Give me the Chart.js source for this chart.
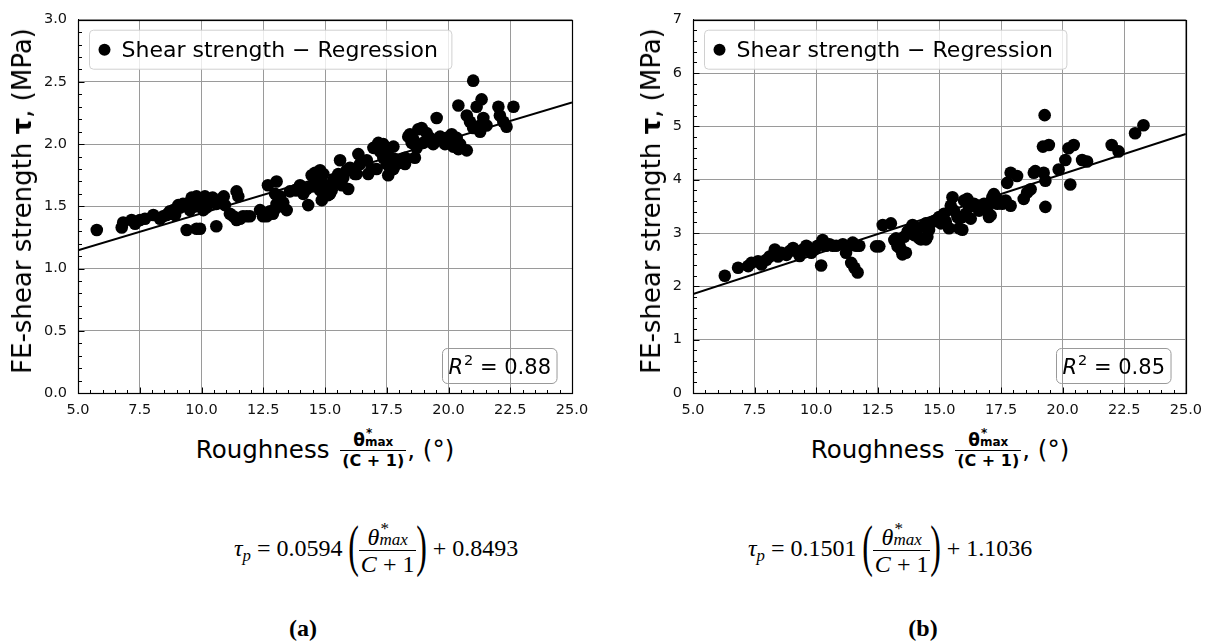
<!DOCTYPE html>
<html>
<head>
<meta charset="utf-8">
<script src="https://cdn.jsdelivr.net/npm/chart.js@4.4.0/dist/chart.umd.min.js"></script>
<style>
  body { margin: 0; background: #fff; }
  #fig { position: relative; width: 1211px; height: 644px; overflow: hidden; font-family: "DejaVu Sans"; color: #000; }
  canvas { position: absolute; top: 0; }
  .ytitle { position: absolute; top: 201px; font-size: 26px; white-space: nowrap; transform: translate(-50%, -50%) rotate(-90deg); }
  .xtitle { position: absolute; top: 431px; width: 494px; text-align: center; font-size: 24.5px; line-height: 30px; white-space: nowrap; }
  .xf { display: inline-block; vertical-align: middle; text-align: center; font-weight: bold; margin: 0 1px 0 3px; }
  .xn { display: block; font-size: 17px; line-height: 19px; padding: 0 2px; }
  .xd { display: block; font-size: 16px; line-height: 19px; border-top: 1.3px solid #000; padding: 0 2px; }
  .ss { display: inline-block; position: relative; font-size: 12px; line-height: 12px; }
  .ss .sp { position: absolute; left: 1px; top: -9px; }
  .eq { position: absolute; top: 518px; font-family: "Liberation Serif"; font-size: 24px; line-height: 60px; white-space: nowrap; }
  .eq sub { font-size: 0.7em; vertical-align: -0.3em; }
  .ef { display: inline-block; vertical-align: middle; text-align: center; margin: 0 1px; }
  .en { display: block; line-height: 26px; padding: 0 2px; }
  .ed { display: block; line-height: 26px; border-top: 1.3px solid #000; padding: 0 2px; }
  .ss2 { display: inline-block; position: relative; font-size: 17px; line-height: 16px; }
  .ss2 .sp { position: absolute; left: 1px; top: -11px; }
  .bp { display: inline-block; font-size: 58px; line-height: 58px; vertical-align: middle; transform: scaleX(0.55); margin: 0 -5px; position: relative; top: -4px; }
  .cap { position: absolute; top: 614px; width: 100px; text-align: center; font-family: "Liberation Serif"; font-weight: bold; font-size: 24px; line-height: 28px; }
</style>
</head>
<body>
<div id="fig">
  <canvas id="chartA" width="600" height="420" style="left:0"></canvas>
  <canvas id="chartB" width="596" height="420" style="left:615px"></canvas>

  <div class="ytitle" style="left:21.5px">FE-shear strength <b>τ</b>, (MPa)</div>
  <div class="ytitle" style="left:651px">FE-shear strength <b>τ</b>, (MPa)</div>

  <div class="xtitle" style="left:78px">Roughness <span class="xf"><span class="xn">θ<span class="ss"><span class="sp">*</span>max</span></span><span class="xd">(C + 1)</span></span>, (°)</div>
  <div class="xtitle" style="left:693px">Roughness <span class="xf"><span class="xn">θ<span class="ss"><span class="sp">*</span>max</span></span><span class="xd">(C + 1)</span></span>, (°)</div>

  <div class="eq" style="left:234px"><i>τ</i><sub><i>p</i></sub> = 0.0594 <span class="bp">(</span><span class="ef"><span class="en"><i>θ</i><span class="ss2"><span class="sp">*</span><i>max</i></span></span><span class="ed"><i>C</i> + 1</span></span><span class="bp">)</span> + 0.8493</div>
  <div class="eq" style="left:748px"><i>τ</i><sub><i>p</i></sub> = 0.1501 <span class="bp">(</span><span class="ef"><span class="en"><i>θ</i><span class="ss2"><span class="sp">*</span><i>max</i></span></span><span class="ed"><i>C</i> + 1</span></span><span class="bp">)</span> + 1.1036</div>

  <div class="cap" style="left:253px">(a)</div>
  <div class="cap" style="left:873px">(b)</div>
</div>

<script>
// (a) roughness vs FE shear strength
const roughA = [5.76, 6.77, 6.83, 7.17, 7.31, 7.51, 7.71, 8.05, 8.32, 8.45, 8.59, 8.72, 8.66, 8.86, 8.93,
  9.06, 9.13, 9.2, 9.25, 9.4, 9.53, 9.67, 9.8, 9.94, 10.07, 10.14, 10.34, 10.61, 10.82, 10.95, 10.9,
  9.6, 9.75, 10.2, 10.45, 9.4, 9.8, 9.94, 10.6, 11.42, 11.49, 11.15, 11.29, 11.42, 11.56, 11.68, 11.83,
  11.96, 12.37, 12.49, 12.64, 12.77, 12.89, 12.69, 13.04, 12.98, 13.18, 13.31, 13.45, 13.04, 12.98, 13.25,
  13.58, 13.79, 13.85, 13.99, 14.12, 14.26, 14.32, 14.46, 14.46, 14.6, 14.66, 14.8, 14.8, 14.87, 14.93,
  14.93, 15.07, 15.13, 15.2, 15.27, 15.34, 15.4, 15.54, 15.61, 15.68, 15.74, 15.88, 15.94, 16.01, 16.15,
  16.21, 16.28, 16.35, 16.42, 16.69, 16.75, 16.89, 16.96, 17.09, 17.16, 17.23, 17.36, 17.5, 17.56, 17.36,
  17.5, 17.63, 17.77, 17.77, 17.9, 18.24, 18.24, 18.37, 18.51, 18.64, 18.71, 18.78, 18.44, 18.57, 18.91,
  18.98, 19.11, 19.25, 19.38, 19.52, 19.52, 19.66, 19.86, 19.93, 20.13, 20.19, 20.33, 20.4, 20.4, 20.47,
  20.74, 20.74, 20.87, 21.0, 21.0, 21.14, 21.28, 21.28, 21.34, 21.41, 21.54, 22.02, 22.08, 22.22, 22.35,
  22.63, 17.5, 17.63, 17.83, 18.17];
const shearA = [1.31, 1.33, 1.37, 1.39, 1.36, 1.39, 1.40, 1.43, 1.40, 1.42, 1.43, 1.46, 1.44, 1.47, 1.43,
  1.51, 1.49, 1.50, 1.52, 1.52, 1.47, 1.55, 1.58, 1.52, 1.47, 1.58, 1.54, 1.52, 1.56, 1.51, 1.58,
  1.57, 1.50, 1.49, 1.57, 1.31, 1.32, 1.32, 1.34, 1.62, 1.58, 1.44, 1.42, 1.39, 1.40, 1.42, 1.42,
  1.42, 1.47, 1.42, 1.42, 1.46, 1.44, 1.67, 1.70, 1.60, 1.58, 1.53, 1.47, 1.52, 1.48, 1.50,
  1.62, 1.63, 1.63, 1.67, 1.60, 1.64, 1.51, 1.75, 1.66, 1.77, 1.71, 1.79, 1.63, 1.55, 1.68,
  1.76, 1.63, 1.59, 1.60, 1.63, 1.71, 1.72, 1.76, 1.87, 1.67, 1.73, 1.79, 1.64, 1.81, 1.80,
  1.76, 1.76, 1.92, 1.84, 1.87, 1.76, 1.80, 1.97, 1.80, 2.01, 1.94, 1.89, 1.84, 1.75, 2.00,
  1.97, 1.89, 1.98, 1.80, 1.84, 1.84, 1.89, 2.06, 2.01, 1.89, 1.97, 2.12, 2.08, 2.04, 2.13,
  2.01, 2.09, 2.05, 2.00, 2.21, 2.03, 2.06, 2.00, 2.05, 2.08, 1.98, 2.05, 1.96, 2.31, 2.00,
  1.95, 2.23, 2.18, 2.13, 2.51, 2.30, 2.15, 2.10, 2.36, 2.21, 2.15, 2.30, 2.23, 2.18, 2.14,
  2.30, 1.92, 1.81, 1.88, 1.86];
const lineXA = [5, 25];
const lineYA = [1.146, 2.334];

// (b)
const roughB = [6.29, 6.83, 7.24, 7.37, 7.64, 7.78, 7.98, 8.11, 8.25, 8.32, 8.45, 8.59, 8.79, 8.92, 9.06,
  9.19, 9.33, 9.46, 9.6, 9.73, 9.8, 9.93, 10.06, 10.26, 10.2, 10.4, 10.54, 10.67, 10.81, 11.08, 11.21,
  11.35, 11.48, 11.62, 11.75, 11.42, 11.55, 11.68, 12.43, 12.56, 12.7, 13.03, 13.17, 13.24, 13.3, 13.37,
  13.44, 13.5, 13.64, 13.57, 13.71, 13.77, 13.91, 13.98, 14.05, 14.11, 14.18, 14.25, 14.31, 14.45, 14.45,
  14.51, 14.58, 14.72, 14.85, 14.99, 15.06, 15.19, 15.26, 15.39, 15.46, 15.53, 15.59, 15.73, 15.8, 15.93,
  16.0, 16.07, 16.13, 16.2, 16.27, 16.4, 16.54, 16.67, 16.81, 16.94, 17.08, 17.21, 17.21, 17.35, 17.55,
  17.69, 17.75, 17.89, 17.89, 18.15, 18.42, 18.56, 18.7, 18.83, 19.2, 18.89, 19.23, 19.3, 19.3, 19.27,
  19.44, 19.84, 20.11, 20.24, 20.45, 20.31, 20.79, 20.99, 21.99, 22.27, 22.94, 23.28, 15.93, 16.61,
  17.01, 17.15, 17.41];
const shearB = [2.20, 2.35, 2.38, 2.44, 2.47, 2.41, 2.50, 2.56, 2.59, 2.69, 2.56, 2.63, 2.59, 2.66, 2.72,
  2.66, 2.57, 2.69, 2.76, 2.72, 2.63, 2.69, 2.76, 2.87, 2.39, 2.76, 2.79, 2.76, 2.76, 2.79, 2.63,
  2.76, 2.82, 2.76, 2.76, 2.44, 2.35, 2.26, 2.75, 2.75, 3.15, 3.18, 2.87, 2.90, 2.75, 2.78,
  2.69, 2.60, 2.63, 2.93, 3.03, 3.03, 3.15, 2.96, 2.97, 3.09, 2.90, 2.88, 3.12, 3.18, 2.88,
  2.93, 3.06, 3.21, 3.24, 3.30, 3.18, 3.36, 3.21, 3.09, 3.51, 3.67, 3.42, 3.30, 3.09, 3.06,
  3.61, 3.36, 3.64, 3.49, 3.27, 3.55, 3.51, 3.49, 3.55, 3.42, 3.33, 3.73, 3.58, 3.55, 3.55,
  3.61, 3.94, 3.51, 4.13, 4.07, 3.64, 3.76, 3.82, 4.13, 4.62, 4.16, 4.13, 3.98, 3.49, 5.21,
  4.65, 4.19, 4.37, 4.59, 4.65, 3.91, 4.37, 4.34, 4.65, 4.53, 4.87, 5.02, 3.30, 3.42,
  3.30, 3.67, 3.61];
const lineXB = [5, 25];
const lineYB = [1.854, 4.856];

// tick labels
const xTicks = [5.0, 7.5, 10.0, 12.5, 15.0, 17.5, 20.0, 22.5, 25.0];
const yTicksA = [0.0, 0.5, 1.0, 1.5, 2.0, 2.5, 3.0];
const yTicksB = [0, 1, 2, 3, 4, 5, 6, 7];

Chart.defaults.font.family = '"DejaVu Sans"';

function boxPath(ctx, x, y, w, h, r) {
  ctx.beginPath();
  ctx.moveTo(x + r, y);
  ctx.lineTo(x + w - r, y);
  ctx.arcTo(x + w, y, x + w, y + r, r);
  ctx.lineTo(x + w, y + h - r);
  ctx.arcTo(x + w, y + h, x + w - r, y + h, r);
  ctx.lineTo(x + r, y + h);
  ctx.arcTo(x, y + h, x, y + h - r, r);
  ctx.lineTo(x, y + r);
  ctx.arcTo(x, y, x + r, y, r);
  ctx.closePath();
}

// frame, inward ticks, legend box and R^2 box
const decor = {
  id: 'decor',
  afterDraw(chart, args, o) {
    const { ctx, chartArea: a } = chart;
    const xs = chart.scales.x, ys = chart.scales.y;
    const L = Math.round(a.left) + 0.5, R = Math.round(a.right) + 0.5;
    const T = Math.round(a.top) + 0.5, B = Math.round(a.bottom) + 0.5;
    ctx.save();
    ctx.strokeStyle = '#000';
    ctx.lineWidth = 1;
    const isMajor = (v, step) => Math.abs(v / step - Math.round(v / step)) < 1e-6;
    for (let v = xs.min; v <= xs.max + 1e-9; v += o.xMinor) {
      const p = Math.round(xs.getPixelForValue(v)) + 0.5;
      ctx.beginPath(); ctx.moveTo(p, B); ctx.lineTo(p, B - (isMajor(v, o.xMajor) ? 6 : 3.5)); ctx.stroke();
    }
    for (let v = ys.min; v <= ys.max + 1e-9; v += o.yMinor) {
      const p = Math.round(ys.getPixelForValue(v)) + 0.5;
      ctx.beginPath(); ctx.moveTo(L, p); ctx.lineTo(L + (isMajor(v, o.yMajor) ? 6 : 3.5), p); ctx.stroke();
    }
    ctx.lineWidth = 1.2;
    ctx.strokeRect(L, T, R - L, B - T);

    // legend
    const sc = chart.data.datasets[1], ln = chart.data.datasets[0];
    const text = sc.label + ' \u2212 ' + ln.label;
    ctx.font = '22px "DejaVu Sans"';
    const bx = a.left + 11.5, by = a.top + 10.5, bh = 39;
    const tx = bx + 32;
    const bw = tx - bx + ctx.measureText(text).width + 14;
    boxPath(ctx, bx, by, bw, bh, 4);
    ctx.fillStyle = 'rgba(255,255,255,0.8)';
    ctx.fill();
    ctx.strokeStyle = '#d0d0d0';
    ctx.lineWidth = 1;
    ctx.stroke();
    ctx.fillStyle = '#000';
    ctx.beginPath(); ctx.arc(bx + 15, by + 19.5, 6, 0, Math.PI * 2); ctx.fill();
    ctx.textBaseline = 'alphabetic';
    ctx.fillText(text, tx, by + 27);

    // R^2 box
    ctx.font = 'italic 21px "DejaVu Sans"';
    const wR = ctx.measureText('R').width;
    ctx.font = '14.5px "DejaVu Sans"';
    const w2 = ctx.measureText('2').width;
    ctx.font = '21px "DejaVu Sans"';
    const rest = ' = ' + o.r2;
    const wRest = ctx.measureText(rest).width;
    const rw = 6 + wR + 1 + w2 + wRest + 6, rh = 35;
    const rx = Math.round(a.right - 15 - rw) + 0.5, ry = Math.round(a.bottom - 10 - rh) + 0.5;
    boxPath(ctx, rx, ry, rw, rh, 5);
    ctx.strokeStyle = '#999';
    ctx.stroke();
    const base = ry + 25;
    ctx.font = 'italic 21px "DejaVu Sans"';
    ctx.fillText('R', rx + 6, base);
    ctx.font = '14.5px "DejaVu Sans"';
    ctx.fillText('2', rx + 6 + wR + 1, base - 9);
    ctx.font = '21px "DejaVu Sans"';
    ctx.fillText(rest, rx + 6 + wR + 1 + w2, base);
    ctx.restore();
  }
};

function makeChart(id, xs, ys, lx, ly, yTicks, yMax, yFmt, extra) {
  return new Chart(document.getElementById(id), {
    type: 'scatter',
    data: {
      datasets: [
        {
          type: 'line', label: 'Regression',
          data: lx.map((v, i) => ({ x: v, y: ly[i] })),
          borderColor: '#000', borderWidth: 2, pointRadius: 0, fill: false, order: 0
        },
        {
          label: 'Shear strength',
          data: xs.map((v, i) => ({ x: v, y: ys[i] })),
          backgroundColor: '#000', borderWidth: 0, pointRadius: 6.3, pointHoverRadius: 6.3, order: 1
        }
      ]
    },
    options: {
      responsive: false,
      animation: false,
      events: [],
      layout: { padding: { top: 13, right: extra.padRight, left: 0, bottom: 0 } },
      plugins: {
        legend: { display: false },
        tooltip: { enabled: false },
        decor: { xMinor: 0.5, xMajor: 2.5, yMinor: extra.yMinor, yMajor: extra.yMajor, r2: extra.r2 }
      },
      scales: {
        x: {
          type: 'linear', min: 5, max: 25,
          afterBuildTicks: s => { s.ticks = xTicks.map(v => ({ value: v })); },
          afterFit: s => { s.height = 27; },
          ticks: { callback: v => v.toFixed(1), font: { size: 14.5 }, color: '#111', padding: 9, maxRotation: 0, autoSkip: false },
          grid: { color: '#9a9a9a', lineWidth: 1, drawTicks: false },
          border: { display: true, color: '#000', width: 1 }
        },
        y: {
          type: 'linear', min: 0, max: yMax,
          afterBuildTicks: s => { s.ticks = yTicks.map(v => ({ value: v })); },
          afterFit: s => { s.width = 78; },
          ticks: { callback: yFmt, font: { size: 14.5 }, color: '#111', padding: 11, autoSkip: false },
          grid: { color: '#9a9a9a', lineWidth: 1, drawTicks: false },
          border: { display: true, color: '#000', width: 1 }
        }
      }
    },
    plugins: [decor]
  });
}

makeChart('chartA', roughA, shearA, lineXA, lineYA, yTicksA, 3, v => v.toFixed(1),
  { padRight: 28, yMinor: 0.1, yMajor: 0.5, r2: '0.88' });
makeChart('chartB', roughB, shearB, lineXB, lineYB, yTicksB, 7, v => String(v),
  { padRight: 23, yMinor: 0.2, yMajor: 1, r2: '0.85' });
</script>
</body>
</html>
